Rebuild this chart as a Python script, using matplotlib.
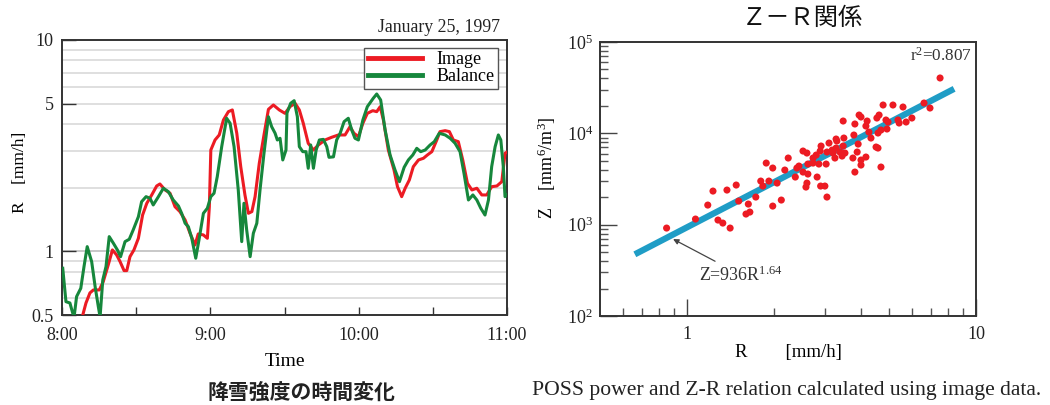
import matplotlib
matplotlib.use("Agg")
import matplotlib.pyplot as plt
from matplotlib.ticker import FixedLocator, NullFormatter, FixedFormatter
import numpy as np

# ---------------- data: time series (minutes after 8:00, R in mm/h) ----------------
image_t = [8.0, 9.7, 11.3, 12.7, 15.1, 16.7, 18.7, 20.4, 22.1, 23.5, 25.1, 26.2, 27.5, 29.1,
           30.9, 32.6, 34.3, 36.3, 38.3, 39.6, 41.7, 43.7, 45.7, 47.7, 49.8, 51.8, 53.8, 55.1,
           57.2, 58.8, 59.6, 60.2, 61.9, 63.6, 65.3, 67.3, 68.9, 70.7, 72.3, 74.0, 75.4, 76.8,
           78.1, 79.8, 81.7, 83.5, 85.5, 87.9, 90.2, 92.2, 94.3, 96.0, 97.6, 99.6, 101.7, 103.7,
           106.4, 109.1, 111.8, 114.5, 116.5, 118.1, 119.9, 121.7, 123.5, 125.7, 127.3, 128.7,
           130.0, 132.0, 134.3, 135.7, 137.4, 138.8, 140.5, 142.1, 144.2, 146.2, 147.8, 149.6,
           151.6, 152.9, 155.0, 156.7, 158.3, 160.3, 162.1, 164.0, 165.8, 167.8, 169.8, 171.8,
           173.8, 175.9, 177.9, 179.2, 180.0]
image_r = [0.48, 0.57, 0.636, 0.657, 0.657, 0.72, 0.863, 1.016, 0.962, 0.894, 0.811, 0.811, 0.944, 1.016,
           1.153, 1.486, 1.689, 1.849, 2.039, 2.084, 1.952, 1.884, 1.627, 1.542, 1.408, 1.218, 1.072, 1.209,
           1.196, 1.153, 1.627, 3.017, 3.365, 3.554, 4.184, 4.581, 4.667, 3.62, 2.516, 1.849, 1.514, 1.542,
           1.815, 2.611, 3.554, 4.70, 4.927, 4.667, 4.498, 4.836, 5.019, 4.667, 4.036, 3.246, 3.017, 3.187,
           3.365, 3.466, 3.554, 3.554, 3.89, 3.62, 3.488, 4.036, 4.498, 4.63, 4.581, 4.836,
           4.184, 3.017, 2.427, 2.023, 1.815, 1.989, 2.177, 2.516, 2.707, 2.757, 2.858, 2.963,
           3.365, 3.685, 3.724, 3.685, 3.365, 3.304, 2.707, 2.099, 1.952, 1.989, 1.849, 1.849,
           2.023, 2.039, 2.137, 2.911, 2.95]

balance_t = [0.3, 1.6, 3.2, 4.3, 4.9, 5.9, 7.6, 8.9, 10.2, 12.0, 13.4, 14.7, 15.4, 16.5, 17.8,
             19.1, 20.8, 22.4, 23.7, 25.5, 27.2, 28.8, 30.9, 32.2, 34.0, 35.6, 36.9, 39.0, 41.0,
             43.0, 45.0, 47.1, 48.4, 49.8, 51.1, 52.5, 54.1, 55.4, 57.2, 58.8, 60.2, 61.5, 62.8,
             64.6, 66.6, 68.0, 69.6, 71.3, 72.7, 73.6, 74.7, 76.1, 77.4, 78.8, 80.1, 81.7, 83.5,
             84.8, 86.2, 87.1, 88.2, 89.3, 90.6, 91.0, 92.5, 93.9, 95.2, 96.0, 97.4, 98.7, 99.6,
             100.6, 101.7, 102.8, 104.1, 105.7, 107.1, 108.0, 109.8, 111.1, 112.5, 114.1, 115.8,
             117.2, 118.5, 119.9, 121.7, 123.5, 125.9, 127.3, 128.9, 130.7, 132.7, 134.7, 136.5,
             138.4, 140.1, 141.9, 143.5, 145.1, 146.9, 148.9, 150.6, 152.6, 155.0, 157.0, 159.0,
             161.0, 162.6, 164.4, 166.2, 167.8, 169.4, 171.1, 172.5, 173.8, 175.2, 176.5, 177.5,
             178.5, 179.2, 180.0]
balance_r = [0.832, 0.578, 0.57, 0.512, 0.49, 0.611, 0.669, 0.847, 1.053, 0.894, 0.681, 0.547, 0.49, 0.733, 0.847,
             1.174, 1.092, 1.016, 0.944, 1.112, 1.141, 1.263, 1.459, 1.718, 1.815, 1.783, 1.658, 1.815, 1.989,
             1.917, 1.75, 1.64, 1.514, 1.358, 1.309, 1.153, 0.928, 1.132, 1.514, 1.60, 1.815, 1.884, 2.256,
             3.129, 4.263, 4.036, 3.129, 1.952, 1.112, 1.689, 1.263, 0.944, 1.218, 1.358, 1.952, 2.911, 4.335,
             3.89, 3.62, 3.365, 3.428, 2.707, 3.017, 4.515, 5.019, 5.164, 4.335, 3.129, 2.963, 2.963, 2.472,
             3.187, 2.472, 3.017, 3.365, 3.388, 3.129, 2.786, 2.80, 3.365, 3.62, 4.108, 4.263,
             3.752, 3.428, 3.365, 4.184, 4.836, 5.30, 5.553, 5.202, 3.752, 2.858, 2.427, 2.137,
             2.50, 2.707, 2.858, 3.073, 2.963, 3.017, 3.187, 3.304, 3.62, 3.554, 3.428, 3.246,
             2.963, 2.342, 1.75, 1.849, 1.75, 1.60, 1.486, 1.75, 2.516, 3.129, 3.554, 3.365,
             2.516, 1.815, 1.85]

time_ticks = [0, 60, 120, 180]
time_labels = ["8:00", "9:00", "10:00", "11:00"]

# ---------------- data: Z-R scatter (R in mm/h, Z in mm^6/m^3) ----------------
zr_R = [0.85, 1.07, 1.18, 1.23, 1.28, 1.33, 1.41, 1.375, 1.48, 1.51, 1.63, 1.60, 1.65, 1.73,
        1.80, 1.83, 1.88, 1.92, 1.98, 1.98, 2.05, 2.12, 2.18, 2.24, 2.40, 2.44, 2.52, 2.62,
        2.62, 2.73, 2.86, 3.03, 3.25, 3.44, 2.37, 2.82, 2.60, 2.58, 2.90, 3.00, 3.05, 2.52,
        2.60, 2.73, 2.80, 2.89, 3.05, 3.18, 3.20, 2.91, 3.10, 3.28, 3.47, 3.28, 3.49, 3.78,
        3.91, 3.88, 3.75, 4.16, 4.00, 4.00, 3.81, 4.69, 4.51, 4.58, 3.47, 3.94, 4.00, 3.81,
        4.20, 4.16, 4.26, 4.33, 4.54, 4.62, 4.69, 4.92, 4.88, 4.96, 4.77, 5.16, 5.37, 5.42,
        5.59, 5.73, 6.00, 6.61, 6.93, 7.51, 3.30, 3.38, 3.52, 4.58]
zr_Z = [918, 1152, 1639, 2333, 1123, 1041, 918, 2393, 2715, 1813, 1681, 1307, 1374, 2006,
        3002, 2647, 4727, 3002, 4169, 1598, 2855, 1860, 3963, 5365, 4169, 4383, 3768, 3583,
        4610, 4727, 4610, 4610, 5365, 5640, 3322, 3322, 2855, 2581, 2647, 2647, 2006, 6400,
        6085, 5365, 5785, 6400, 6240, 6560, 6085, 7260, 7830, 6900, 7260, 8660, 8880, 9580,
        7630, 6240, 5365, 5500, 5100, 4495, 3768, 4274, 7080, 6900, 13640, 15860, 15090, 12650,
        13640, 12020, 10330, 8880, 14710, 15860, 10870, 11150, 13990, 13300, 20420, 20420, 13990, 12970,
        19410, 13300, 14710, 21470, 18930, 40360, 8235, 6240, 6085, 10080]

fit_a = 936
fit_b = 1.64
fit_R_range = [0.66, 8.4]
r_squared = "0.807"

# ---------------- styling ----------------
RED = "#ec1b23"
GREEN = "#16873c"
BLUE = "#1f9dc6"
SERIF = ["Liberation Serif", "DejaVu Serif"]
CJK = ["Noto Sans CJK JP", "DejaVu Sans"]

plt.rcParams["font.family"] = SERIF
plt.rcParams["mathtext.fontset"] = "custom"
plt.rcParams["mathtext.rm"] = "Liberation Serif"
plt.rcParams["mathtext.it"] = "Liberation Serif:italic"

fig = plt.figure(figsize=(10.5, 4.05), dpi=100)

# ---------------- left: time series ----------------
ax1 = fig.add_axes([62 / 1050, 90 / 405, 445 / 1050, 275 / 405])
ax1.set_yscale("log")
ax1.set_xlim(0, 180)
ax1.set_ylim(0.5, 10)

minor_y = [0.6, 0.7, 0.8, 0.9, 2, 3, 4, 6, 7, 8, 9]
for v in minor_y:
    ax1.axhline(v, color="#dcdcdc", lw=1.3, zorder=0)
ax1.axhline(1, color="#c4c4c4", lw=1.3, zorder=0)
ax1.axhline(5, color="#dcdcdc", lw=1.3, zorder=0)

ax1.plot(image_t, image_r, color=RED, lw=2.2, label="Image", zorder=3)
ax1.plot(balance_t, balance_r, color=GREEN, lw=2.2, label="Balance", zorder=4)

ax1.yaxis.set_major_locator(FixedLocator([0.5, 1, 5, 10]))
ax1.yaxis.set_major_formatter(FixedFormatter(["0.5", "1", "5", "10"]))
ax1.yaxis.set_minor_locator(FixedLocator(minor_y))
ax1.yaxis.set_minor_formatter(NullFormatter())
ax1.xaxis.set_major_locator(FixedLocator(time_ticks))
ax1.xaxis.set_major_formatter(FixedFormatter(time_labels))
ax1.xaxis.set_minor_locator(FixedLocator([30, 90, 150]))
ax1.tick_params(which="major", direction="in", length=6, width=1, labelsize=13, colors="#333333", labelcolor="#222222")
ax1.tick_params(axis="y", which="major", length=10)
ax1.tick_params(axis="y", which="minor", length=0)
ax1.tick_params(axis="x", which="minor", direction="in", length=6, width=1, color="#333333")
ax1.tick_params(axis="x", pad=9)
ax1.tick_params(axis="y", pad=6)
for s in ax1.spines.values():
    s.set_color("#333333")
    s.set_linewidth(1.4)

ax1.set_xlabel("Time", fontsize=14, labelpad=6)
ax1.set_ylabel("R    [mm/h]", fontsize=12.5)
ax1.yaxis.set_label_coords(-0.077, 0.52)
ax1.text(0.984, 1.047, "January 25, 1997", transform=ax1.transAxes, ha="right", va="center",
         fontsize=12.8, color="#222222")

leg = ax1.legend(loc="upper right", bbox_to_anchor=(0.98, 0.972), fancybox=False,
                 edgecolor="#555555", framealpha=1, fontsize=13, handlelength=3.0,
                 borderaxespad=0, borderpad=0.2, labelspacing=0.0, handletextpad=0.8)
leg.get_frame().set_linewidth(1.0)
for h in leg.get_lines():
    h.set_linewidth(3.5)

fig.text(301 / 1050, 1 - 392 / 405, "降雪強度の時間変化", family=CJK, fontsize=15,
         fontweight="bold", ha="center", va="center", color="#222222")

# ---------------- right: Z-R relation ----------------
ax2 = fig.add_axes([600 / 1050, 89 / 405, 376 / 1050, 274 / 405])
ax2.set_xscale("log")
ax2.set_yscale("log")
ax2.set_xlim(0.5, 10)
ax2.set_ylim(1e2, 1e5)

fitR = np.array(fit_R_range)
ax2.plot(fitR, fit_a * fitR ** fit_b, color=BLUE, lw=4.5, solid_capstyle="butt", zorder=2)
ax2.scatter(zr_R, zr_Z, s=26, color=RED, edgecolors="none", zorder=3)

ax2.xaxis.set_major_locator(FixedLocator([1, 10]))
ax2.xaxis.set_major_formatter(FixedFormatter(["1", "10"]))
ax2.xaxis.set_minor_locator(FixedLocator([0.6, 0.7, 0.8, 0.9, 2, 3, 4, 5, 6, 7, 8, 9]))
ax2.xaxis.set_minor_formatter(NullFormatter())
ax2.yaxis.set_major_locator(FixedLocator([1e2, 1e3, 1e4, 1e5]))
ax2.yaxis.set_major_formatter(FixedFormatter([r"$10^2$", r"$10^3$", r"$10^4$", r"$10^5$"]))
ymin = [m * 10 ** e for e in (2, 3, 4) for m in range(2, 10)]
ax2.yaxis.set_minor_locator(FixedLocator(ymin))
ax2.yaxis.set_minor_formatter(NullFormatter())
ax2.tick_params(which="major", direction="in", length=12, width=1, labelsize=13,
                colors="#444444", labelcolor="#222222")
ax2.tick_params(which="minor", direction="in", length=5.5, width=1, colors="#555555")
ax2.tick_params(axis="x", pad=7)
ax2.tick_params(axis="y", pad=5)
for s in ax2.spines.values():
    s.set_color("#333333")
    s.set_linewidth(1.4)

ax2.set_xlabel("R        [mm/h]", fontsize=13.5, labelpad=1)
ax2.set_ylabel(r"Z    [mm$^6$/m$^3$]", fontsize=13)
ax2.yaxis.set_label_coords(-0.112, 0.54)

ax2.text(0.99, 0.95, r"r$^2$=" + r_squared, transform=ax2.transAxes, ha="right", va="center",
         fontsize=12.3, color="#333333")
ax2.annotate(r"Z=936R$^{1.64}$", xy=(0.895, 695), xytext=(1.54, 281), textcoords="data",
             ha="center", va="center", fontsize=12.9, color="#333333",
             arrowprops=dict(arrowstyle="-|>", color="#444444", lw=0.9, mutation_scale=8,
                             shrinkA=2, shrinkB=0))

fig.text(802 / 1050, 1 - 18 / 405, "Ｚ－Ｒ関係", family=CJK, fontsize=17.5,
         ha="center", va="center", color="#111111")
fig.text(787 / 1050, 1 - 391 / 405, "POSS power and Z-R relation calculated using image data.",
         fontsize=15.6, ha="center", va="center", color="#222222")

fig.savefig("out.png", dpi=100)
